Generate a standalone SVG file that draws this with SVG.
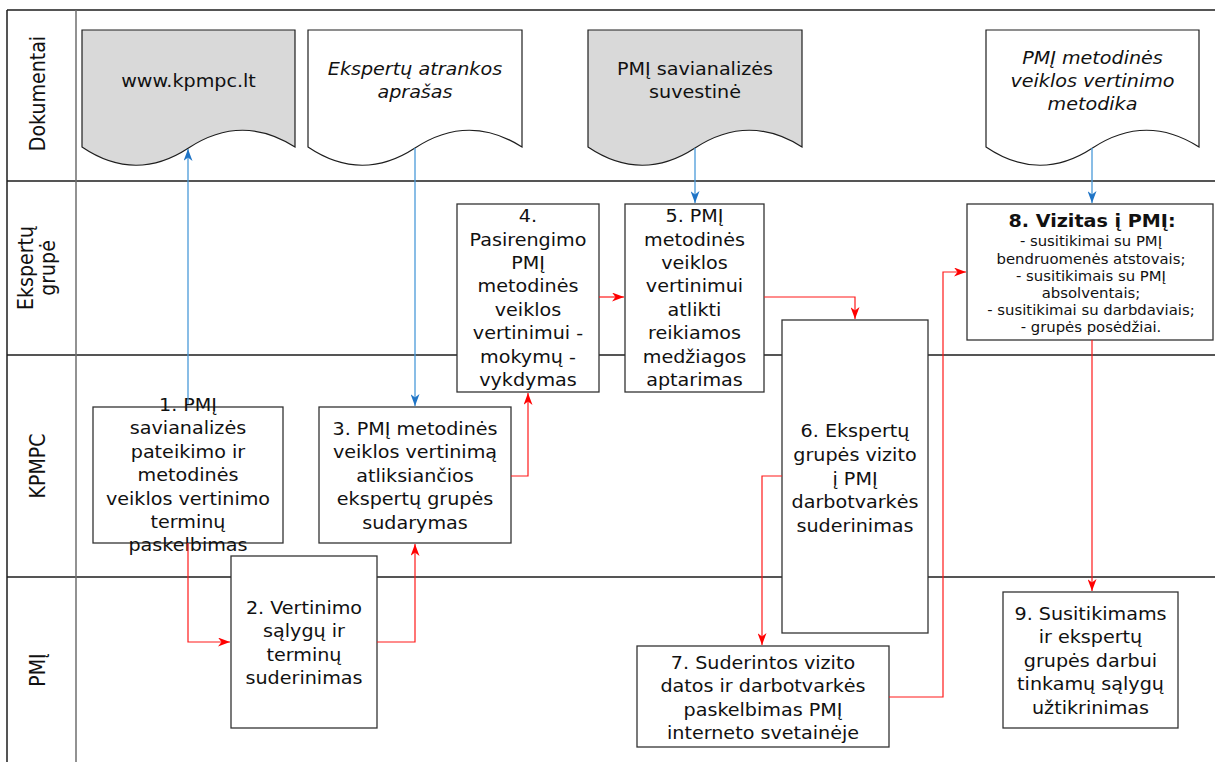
<svg xmlns="http://www.w3.org/2000/svg" width="1215" height="762" viewBox="0 0 1215 762">
<style>
.frame{stroke:#1e1e1e;stroke-width:1.5;fill:none}
.vline{stroke:#6e6e6e;stroke-width:1.5;fill:none}
.doc{stroke:#1e1e1e;stroke-width:1.2}
.gray{fill:#d9d9d9}
.white{fill:#fff}
.box{fill:#fff;stroke:#333;stroke-width:1.3}
.t{font-family:"DejaVu Sans",Verdana,sans-serif;font-size:17.4px;text-anchor:middle;fill:#111;transform-box:fill-box;transform-origin:center;transform:scaleX(1.1)}
.it{font-style:italic}
.b{font-weight:bold}
.s{font-size:13.5px}
.lane{font-family:"DejaVu Sans",Verdana,sans-serif;font-size:19px;text-anchor:middle;fill:#111}
.red{stroke:#ff1a1a;stroke-width:1.2;fill:none;marker-end:url(#ar)}
.blue{stroke:#4a9ad9;stroke-width:1.3;fill:none;marker-end:url(#ab)}
</style>
<defs>
<marker id="ar" viewBox="0 0 12 9" refX="12" refY="4.5" markerWidth="12" markerHeight="9" orient="auto" markerUnits="userSpaceOnUse"><path d="M0,0 L12,4.5 L0,9 L3.5,4.5 Z" fill="#f00"/></marker>
<marker id="ab" viewBox="0 0 12 9" refX="12" refY="4.5" markerWidth="12" markerHeight="9" orient="auto" markerUnits="userSpaceOnUse"><path d="M0,0 L12,4.5 L0,9 L3.5,4.5 Z" fill="#1f74c6"/></marker>
</defs>
<rect width="1215" height="762" fill="#fff"/>
<g id="frame">
<path class="frame" d="M7,10 H1215 M7,181 H1215 M7,355 H1215 M7,577 H1215 M7,10 V762"/>
<path class="vline" d="M76,10 V762"/>
</g>
<g id="lanes">
<g transform="translate(45,93.5) rotate(-90) scale(1,1.1)"><text class="lane" x="0" y="0">Dokumentai</text></g>
<g transform="translate(33,268) rotate(-90) scale(1,1.1)"><text class="lane" x="0" y="0">Ekspertų<tspan x="0" y="20">grupė</tspan></text></g>
<g transform="translate(44.5,466) rotate(-90) scale(1,1.1)"><text class="lane" x="0" y="0">KPMPC</text></g>
<g transform="translate(45,670) rotate(-90) scale(1,1.1)"><text class="lane" x="0" y="0">PMĮ</text></g>
</g>
<g id="doc1">
<path class="doc gray" d="M82,147 V30 H295 V147 Q241.75,113 188.5,148 Q135.25,183 82,147 Z"/>
<text class="t" x="188.5" y="87">www.kpmpc.lt</text>
</g>
<g id="doc2">
<path class="doc white" d="M308,147 V30 H522 V147 Q468.5,113 415,148 Q361.5,183 308,147 Z"/>
<text class="t it" x="415" y="75.5">Ekspertų atrankos<tspan x="415" y="98.5">aprašas</tspan></text>
</g>
<g id="doc3">
<path class="doc gray" d="M588,147 V30 H802 V147 Q748.5,113 695,148 Q641.5,183 588,147 Z"/>
<text class="t" x="695" y="75.5">PMĮ savianalizės<tspan x="695" y="98.5">suvestinė</tspan></text>
</g>
<g id="doc4">
<path class="doc white" d="M986,147 V30 H1199 V147 Q1145.75,113 1092.5,148 Q1039.25,183 986,147 Z"/>
<text class="t it" x="1092.5" y="64.5">PMĮ metodinės<tspan x="1092.5" y="87.5">veiklos vertinimo</tspan><tspan x="1092.5" y="110.5">metodika</tspan></text>
</g>
<g id="n1">
<rect class="box" x="93" y="407" width="190" height="136"/>
<text class="t" x="188" y="411">1. PMĮ<tspan x="188" y="434.4">savianalizės</tspan><tspan x="188" y="457.8">pateikimo ir</tspan><tspan x="188" y="481.2">metodinės</tspan><tspan x="188" y="504.6">veiklos vertinimo</tspan><tspan x="188" y="528">terminų</tspan><tspan x="188" y="551.4">paskelbimas</tspan></text>
</g>
<g id="n2">
<rect class="box" x="231" y="556" width="146" height="172"/>
<text class="t" x="304" y="614">2. Vertinimo<tspan x="304" y="637.4">sąlygų ir</tspan><tspan x="304" y="660.8">terminų</tspan><tspan x="304" y="684.2">suderinimas</tspan></text>
</g>
<g id="n3">
<rect class="box" x="319" y="407" width="192" height="136"/>
<text class="t" x="415" y="435">3. PMĮ metodinės<tspan x="415" y="458.4">veiklos vertinimą</tspan><tspan x="415" y="481.8">atliksiančios</tspan><tspan x="415" y="505.2">ekspertų grupės</tspan><tspan x="415" y="528.6">sudarymas</tspan></text>
</g>
<g id="n4">
<rect class="box" x="457" y="204" width="142" height="188"/>
<text class="t" x="528" y="222.3">4.<tspan x="528" y="245.7">Pasirengimo</tspan><tspan x="528" y="269.1">PMĮ</tspan><tspan x="528" y="292.5">metodinės</tspan><tspan x="528" y="315.9">veiklos</tspan><tspan x="528" y="339.3">vertinimui -</tspan><tspan x="528" y="362.7">mokymų -</tspan><tspan x="528" y="386.1">vykdymas</tspan></text>
</g>
<g id="n5">
<rect class="box" x="625" y="204" width="139" height="188"/>
<text class="t" x="694.5" y="222.3">5. PMĮ<tspan x="694.5" y="245.7">metodinės</tspan><tspan x="694.5" y="269.1">veiklos</tspan><tspan x="694.5" y="292.5">vertinimui</tspan><tspan x="694.5" y="315.9">atlikti</tspan><tspan x="694.5" y="339.3">reikiamos</tspan><tspan x="694.5" y="362.7">medžiagos</tspan><tspan x="694.5" y="386.1">aptarimas</tspan></text>
</g>
<g id="n6">
<rect class="box" x="782" y="320" width="146" height="313"/>
<text class="t" x="855" y="437.5">6. Ekspertų<tspan x="855" y="461.1">grupės vizito</tspan><tspan x="855" y="484.7">į PMĮ</tspan><tspan x="855" y="508.3">darbotvarkės</tspan><tspan x="855" y="531.9">suderinimas</tspan></text>
</g>
<g id="n7">
<rect class="box" x="637" y="646" width="252" height="101"/>
<text class="t" x="763" y="669">7. Suderintos vizito<tspan x="763" y="692.4">datos ir darbotvarkės</tspan><tspan x="763" y="715.8">paskelbimas PMĮ</tspan><tspan x="763" y="739.2">interneto svetainėje</tspan></text>
</g>
<g id="n8">
<rect class="box" x="967" y="204" width="246" height="136"/>
<text class="t b" x="1092" y="227">8. Vizitas į PMĮ:</text>
<text class="t s" x="1091" y="246.5">- susitikimai su PMĮ<tspan x="1091" y="263.7">bendruomenės atstovais;</tspan><tspan x="1091" y="280.9">- susitikimais su PMĮ</tspan><tspan x="1091" y="298.1">absolventais;</tspan><tspan x="1091" y="315.3">- susitikimai su darbdaviais;</tspan><tspan x="1091" y="332.5">- grupės posėdžiai.</tspan></text>
</g>
<g id="n9">
<rect class="box" x="1003" y="592" width="175" height="136"/>
<text class="t" x="1090.5" y="620">9. Susitikimams<tspan x="1090.5" y="643.4">ir ekspertų</tspan><tspan x="1090.5" y="666.8">grupės darbui</tspan><tspan x="1090.5" y="690.2">tinkamų sąlygų</tspan><tspan x="1090.5" y="713.6">užtikrinimas</tspan></text>
</g>
<g id="connectors">
<path class="blue" d="M188,404 V149"/>
<path class="blue" d="M415,148 V406"/>
<path class="blue" d="M695,148 V203"/>
<path class="blue" d="M1092,148 V203"/>
<path class="red" d="M188,543 V642 H230"/>
<path class="red" d="M377,642 H415 V544"/>
<path class="red" d="M511,476 H528 V393"/>
<path class="red" d="M599,297 H624"/>
<path class="red" d="M764,297 H855 V319"/>
<path class="red" d="M782,476 H762 V645"/>
<path class="red" d="M889,697 H943 V272 H966"/>
<path class="red" d="M1092,340 V591"/>
</g>
</svg>
